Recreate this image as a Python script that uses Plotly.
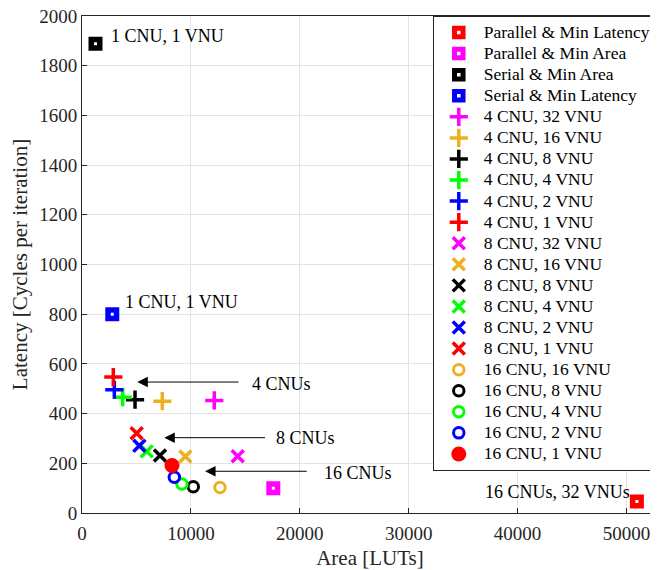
import plotly.graph_objects as go

# ---- data ----
series_names = [
    "Parallel & Min Latency", "Parallel & Min Area", "Serial & Min Area", "Serial & Min Latency",
    "4 CNU, 32 VNU", "4 CNU, 16 VNU", "4 CNU, 8 VNU", "4 CNU, 4 VNU", "4 CNU, 2 VNU", "4 CNU, 1 VNU",
    "8 CNU, 32 VNU", "8 CNU, 16 VNU", "8 CNU, 8 VNU", "8 CNU, 4 VNU", "8 CNU, 2 VNU", "8 CNU, 1 VNU",
    "16 CNU, 16 VNU", "16 CNU, 8 VNU", "16 CNU, 4 VNU", "16 CNU, 2 VNU", "16 CNU, 1 VNU",
]
area_luts = [
    50960, 17570, 1240, 2780,
    12150, 7375, 4870, 3735, 2970, 2875,
    14300, 9490, 7160, 5940, 5265, 5020,
    12670, 10220, 9180, 8480, 8265,
]
latency_cycles = [
    46, 100, 1888, 800,
    453, 450, 456, 466, 496, 547,
    228, 227, 231, 248, 271, 321,
    103, 106, 117, 144, 191,
]

# ---- styles ----
RED, MAG, BLK, BLU, ORG, GRN = "#FF0000", "#FF00FF", "#000000", "#0000FF", "#EDB120", "#00FF00"
colors = [RED, MAG, BLK, BLU,
          MAG, ORG, BLK, GRN, BLU, RED,
          MAG, ORG, BLK, GRN, BLU, RED,
          ORG, BLK, GRN, BLU, RED]
kinds = ["sq"] * 4 + ["plus"] * 6 + ["x"] * 6 + ["ring"] * 4 + ["dot"]

FONT = "Liberation Serif"
INK = "#262626"

fig = go.Figure()
for name, xa, ya, c, k in zip(series_names, area_luts, latency_cycles, colors, kinds):
    if k == "sq":
        marker = dict(symbol="square", size=8.5, color="white", line=dict(color=c, width=5.5))
    elif k == "plus":
        marker = dict(symbol="cross-thin", size=13, color=c, line=dict(color=c, width=3.5))
    elif k == "x":
        marker = dict(symbol="x-thin", size=12, color=c, line=dict(color=c, width=3.5))
    elif k == "ring":
        marker = dict(symbol="circle-open", size=10.5, color=c, line=dict(color=c, width=3))
    else:
        marker = dict(symbol="circle", size=15, color=c, line=dict(width=0))
    fig.add_trace(go.Scatter(
        x=[xa], y=[ya], mode="markers", marker=marker,
        name='<span style="font-size:17.5px">' + name + "</span>",
    ))

annotations = []
# arrows (head x,y ; tail ax,ay) and labels
arrows = [
    (5080, 527, 14510, 527),
    (7560, 303, 16950, 303),
    (11300, 168, 20780, 168),
]
for hx, hy, tx, ty in arrows:
    annotations.append(dict(
        x=hx, y=hy, ax=tx, ay=ty, xref="x", yref="y", axref="x", ayref="y",
        text="", showarrow=True, arrowhead=2, arrowsize=2.1, arrowwidth=1,
        arrowcolor="#000000", standoff=0, startstandoff=0,
    ))
labels = [
    ("4 CNUs", 15400, 520),
    ("8 CNUs", 17630, 300),
    ("16 CNUs", 22050, 160),
    ("1 CNU, 1 VNU", 2480, 1920),
    ("1 CNU, 1 VNU", 3790, 848),
    ("16 CNUs, 32 VNUs", 36840, 86),
]
for t, lx, ly in labels:
    annotations.append(dict(
        x=lx, y=ly, xref="x", yref="y", text=t, showarrow=False,
        xanchor="left", yanchor="middle",
        font=dict(family=FONT, size=18, color="#000000"),
    ))

axis_common = dict(
    showgrid=True, gridcolor="#E3E3E3", gridwidth=1,
    showline=True, mirror=True, linecolor=INK, linewidth=1,
    ticks="inside", ticklen=5, tickcolor=INK, tickwidth=1,
    tickfont=dict(family=FONT, size=19, color=INK),
    zeroline=False, automargin=False, tickformat="d",
    ticklabeloverflow="allow",
)

# page body adds an 8px offset, so the figure is 8px smaller and shifted
fig.update_layout(
    width=650, height=562,
    margin=dict(l=74, r=0, t=8, b=57),
    paper_bgcolor="white", plot_bgcolor="white",
    font=dict(family=FONT, color=INK),
    xaxis=dict(range=[0, 52900], dtick=10000, tick0=0, ticklabelstandoff=3,
               title=dict(text="Area [LUTs]", font=dict(family=FONT, size=21, color=INK), standoff=8),
               **axis_common),
    yaxis=dict(range=[0, 2000], dtick=200, tick0=0,
               title=dict(text="Latency [Cycles per iteration]", font=dict(family=FONT, size=21, color=INK), standoff=6),
               **axis_common),
    legend=dict(
        x=0.609, y=1.0, xanchor="left", yanchor="top",
        bgcolor="white", bordercolor=INK, borderwidth=1,
        font=dict(family=FONT, size=13.9, color="#000000"),
        itemwidth=40, tracegroupgap=0,
    ),
    annotations=annotations,
    showlegend=True,
)

fig.write_html("out.html")
